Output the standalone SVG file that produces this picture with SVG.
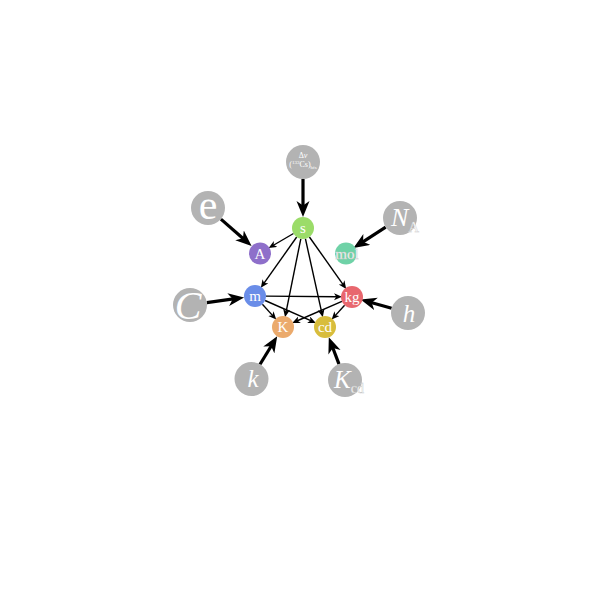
<svg xmlns="http://www.w3.org/2000/svg" width="600" height="600" viewBox="0 0 600 600">
<style>
.const circle{fill:#b3b3b3}
.unit text{font-family:"Liberation Serif","DejaVu Serif",serif;font-size:15px;fill:#fff;text-anchor:middle}
.const text{font-family:"Liberation Serif","DejaVu Serif",serif;fill:#fff;text-anchor:middle}
.sub{stroke:#c8c8c8;stroke-width:0.4}
.big line{stroke:#000;stroke-width:3.2;marker-end:url(#bigA)}
.thin line{stroke:#000;stroke-width:1.4;marker-end:url(#smA)}
</style>
<defs>
<marker id="bigA" markerUnits="userSpaceOnUse" markerWidth="18" markerHeight="14" refX="7" refY="6.5" orient="auto" viewBox="0 0 18 14"><path d="M0,0 L16,6.5 L0,13 L4.5,6.5 z" fill="#000"/></marker>
<marker id="smA" markerUnits="userSpaceOnUse" markerWidth="10" markerHeight="8" refX="3" refY="3.5" orient="auto" viewBox="0 0 10 8"><path d="M0,0 L8,3.5 L0,7 L2.2,3.5 z" fill="#000"/></marker>
</defs>
<rect width="600" height="600" fill="#fff"/>
<g id="connectors">
<g class="big">
<line x1="303" y1="179" x2="303" y2="208"/>
<line x1="220.9" y1="219.1" x2="244.8" y2="240"/>
<line x1="385.7" y1="227.2" x2="361" y2="243.2"/>
<line x1="206.8" y1="302.7" x2="235.2" y2="298.7"/>
<line x1="391.6" y1="308.3" x2="369.3" y2="302"/>
<line x1="259.9" y1="364.5" x2="272.5" y2="344"/>
<line x1="339" y1="364.1" x2="332" y2="345.7"/>
</g>
<g class="thin">
<line x1="293.5" y1="233.5" x2="273" y2="245.5"/>
<line x1="296.7" y1="237" x2="263.7" y2="283.7"/>
<line x1="300.8" y1="238.8" x2="286" y2="312.3"/>
<line x1="305.4" y1="238.7" x2="321.7" y2="312.4"/>
<line x1="309.4" y1="237" x2="343.3" y2="284.8"/>
<line x1="266" y1="296.1" x2="337" y2="296.8"/>
<line x1="262.4" y1="304.2" x2="272.9" y2="315.9"/>
<line x1="265.1" y1="300.5" x2="311.3" y2="320.9"/>
<line x1="341.9" y1="301.4" x2="296.8" y2="321"/>
<line x1="344.6" y1="305.2" x2="335" y2="315.9"/>
</g>
</g>
<g id="node-s" class="unit"><circle cx="303" cy="228" r="11" fill="#9bdc69"/><text x="303" y="233">s</text></g>
<g id="node-A" class="unit"><circle cx="260" cy="253.5" r="11" fill="#8e6fca"/><text x="260" y="258.5">A</text></g>
<g id="node-mol" class="unit"><circle cx="346" cy="253.5" r="11" fill="#6fd2a7"/><text class="sub" x="347" y="258.5">mol</text></g>
<g id="node-m" class="unit"><circle cx="255" cy="296" r="11" fill="#6a8de8"/><text x="255" y="301">m</text></g>
<g id="node-kg" class="unit"><circle cx="352" cy="297" r="11" fill="#e8676e"/><text x="352" y="301.5">kg</text></g>
<g id="node-K" class="unit"><circle cx="283" cy="327" r="11" fill="#ebaa6c"/><text x="283" y="332">K</text></g>
<g id="node-cd" class="unit"><circle cx="325" cy="327" r="11" fill="#d8bd3c"/><text x="325" y="332">cd</text></g>
<g id="node-dnu" class="const"><circle cx="303" cy="162" r="17"/><text x="303" y="158" font-size="8">Δ<tspan font-style="italic">ν</tspan></text><text x="303" y="167" font-size="8">(<tspan font-size="5" dy="-3">133</tspan><tspan dy="3">Cs)</tspan><tspan font-size="5" dy="2">hfs</tspan></text></g>
<g id="node-e" class="const"><circle cx="208" cy="208" r="17"/><text x="208" y="219" font-size="42">e</text></g>
<g id="node-NA" class="const"><circle cx="400" cy="218" r="17"/><text x="405" y="226" font-size="26"><tspan font-style="italic">N</tspan><tspan class="sub" font-size="15" dy="6">A</tspan></text></g>
<g id="node-c" class="const"><circle cx="190" cy="305" r="17"/><text x="188" y="319" font-size="40" font-style="italic">C</text></g>
<g id="node-h" class="const"><circle cx="408" cy="313" r="17"/><text x="409" y="322" font-size="25" font-style="italic">h</text></g>
<g id="node-k" class="const"><circle cx="251.5" cy="379" r="17"/><text x="253" y="387" font-size="25" font-style="italic">k</text></g>
<g id="node-Kcd" class="const"><circle cx="345" cy="380" r="17"/><text x="349" y="388" font-size="25"><tspan font-style="italic">K</tspan><tspan class="sub" font-size="14" dy="5">cd</tspan></text></g>
</svg>
